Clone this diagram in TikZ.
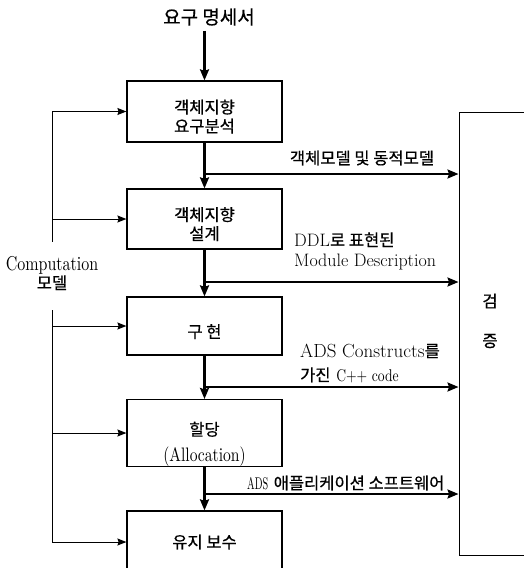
\documentclass[tikz,border=0pt]{standalone}
\usepackage{fontspec}
\newfontfamily\kr[FakeBold=0.6]{Noto Sans CJK KR}
\newfontfamily\cond[FakeStretch=0.8]{lmroman10-regular.otf}
\newfontfamily\ccond[FakeStretch=0.6]{lmroman10-regular.otf}
\usetikzlibrary{arrows.meta}
\tikzset{
  box/.style={draw, line width=1.2pt, minimum width=155pt, inner sep=0pt, align=center,
              font=\kr\fontsize{16.5}{19}\selectfont},
  flow/.style={line width=2.2pt, -{Stealth[length=11pt,width=9pt,inset=1.5pt]}},
  branch/.style={line width=2pt, -{Stealth[length=11pt,width=9pt,inset=1.5pt]}},
  feed/.style={line width=1pt, -{Stealth[length=9pt,width=7pt,inset=1.2pt]}},
  feedline/.style={line width=1pt},
  krlbl/.style={inner sep=0pt, font=\kr\fontsize{16.5}{19}\selectfont},
  lbl/.style={inner sep=0pt, align=left, font=\fontsize{18}{20}\selectfont},
}
\newcommand\K[1]{{\kr\fontsize{16.5}{20}\selectfont #1}}
\newcommand\Up[1]{\rule{0pt}{#1}}
\begin{document}
\begin{tikzpicture}[x=1pt,y=-1pt]
\useasboundingbox (0,0) rectangle (523,568);
\fill[white] (0,0) rectangle (523,568);

% title
\node[inner sep=0pt, font=\kr\fontsize{19}{22}\selectfont] (spec) at (209,17) {요구 명세서};

% main boxes
\node[box, minimum height=61pt] (b1) at (204.5,111.5) {\Up{24pt}객체지향\\요구분석};
\node[box, minimum height=60pt] (b2) at (204.5,219) {\Up{24pt}객체지향\\설계};
\node[box, minimum height=58pt] (b3) at (204.5,326) {\Up{25pt}구 현};
\node[box, minimum height=60pt] (b4) at (204.5,433) {\Up{36pt}할당\\[7pt]{\cond\fontsize{19.5}{19}\selectfont (Allocation)}};
\node[box, minimum height=62pt] (b5) at (204.5,542) {유지 보수};

% verification box (clipped at the right edge)
\node[draw, line width=1pt, minimum width=86pt, minimum height=443pt, inner sep=0pt] (verif) at (502,333.5) {};
\node[krlbl] (v1) at (490,301) {검};
\node[krlbl] (v2) at (490,341) {증};

% main flow
\draw[flow, shorten <=5pt] (spec.south -| b1.north) -- (b1.north);
\draw[flow] (b1) -- (b2);
\draw[flow] (b2) -- (b3);
\draw[flow] (b3) -- (b4);
\draw[flow] (b4) -- (b5);

% branches to verification
\coordinate (j1) at (b1.south |- 0,174);
\coordinate (j2) at (b1.south |- 0,282);
\coordinate (j3) at (b1.south |- 0,387);
\coordinate (j4) at (b1.south |- 0,494);
\draw[branch] (j1) -- (j1 -| verif.west);
\draw[branch] (j2) -- (j2 -| verif.west);
\draw[branch] (j3) -- (j3 -| verif.west);
\draw[branch] (j4) -- (j4 -| verif.west);

% branch labels
\node[krlbl] (l1) at (362,158) {객체모델 및 동적모델};
\node[lbl, anchor=west] (l2) at (294,251) {DDL\K{로 표현된}\\Module Description};
\node[lbl, anchor=west, font=\fontsize{19}{24}\selectfont] (l3) at (300,363) {ADS Constructs\K{를}\\\K{가진} {\cond\fontsize{17}{24}\selectfont C++ code}};
\node[lbl, anchor=west] (l4) at (247,483) {{\ccond\fontsize{17}{20}\selectfont ADS} \K{애플리케이션 소프트웨어}};

% computation model feedback
\coordinate (L) at (52,0);
\node[inner sep=0pt, align=center, font=\cond\fontsize{20}{19}\selectfont] (comp) at (52,273) {Computation\\\K{모델}};
\coordinate (gt) at (52,242);
\coordinate (gb) at (52,310);
\draw[feedline] (b1.west -| L) -- (gt);
\draw[feedline] (gb) -- (b5.west -| L);
\draw[feed] (b1.west -| L) -- (b1.west);
\draw[feed] (b2.west -| L) -- (b2.west);
\draw[feed] (b3.west -| L) -- (b3.west);
\draw[feed] (b4.west -| L) -- (b4.west);
\draw[feed] (b5.west -| L) -- (b5.west);
\end{tikzpicture}
\end{document}
